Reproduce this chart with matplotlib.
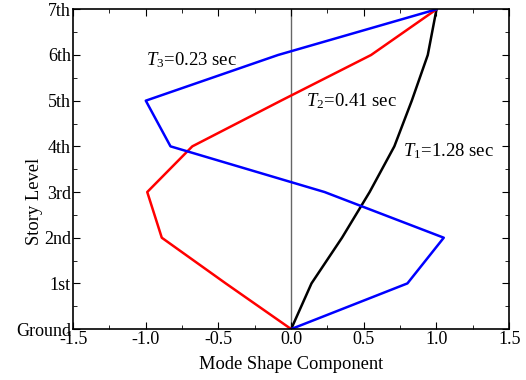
import numpy as np
import matplotlib
matplotlib.use("Agg")
import matplotlib.pyplot as plt

plt.rcParams["font.family"] = "Liberation Serif"
plt.rcParams["mathtext.fontset"] = "custom"
plt.rcParams["mathtext.it"] = "Liberation Serif:italic"
plt.rcParams["mathtext.rm"] = "Liberation Serif"

# story levels (ground to 7th)
levels = [0, 1, 2, 3, 4, 5, 6, 7]
level_labels = ["Ground", "1st", "2nd", "3rd", "4th", "5th", "6th", "7th"]

# mode shapes
mode1 = [0.0, 0.14, 0.35, 0.54, 0.71, 0.83, 0.94, 1.0]
mode2 = [0.0, -0.45, -0.89, -0.99, -0.68, -0.07, 0.55, 1.0]
mode3 = [0.0, 0.80, 1.05, 0.23, -0.83, -1.0, -0.09, 1.0]

fig = plt.figure(figsize=(5.26, 3.8), dpi=100)
ax = fig.add_axes([0.139, 0.134, 0.829, 0.8415])

ax.axvline(0, color="#666666", lw=1.0, zorder=1)
ax.plot(mode1, levels, color="black", lw=1.8)
ax.plot(mode2, levels, color="red", lw=1.8)
ax.plot(mode3, levels, color="blue", lw=1.8)

ax.text(-1.0, 5.88, "$T_3$=0.23 sec", fontsize=13.5, va="center")
ax.text(0.1, 4.98, "$T_2$=0.41 sec", fontsize=13.5, va="center")
ax.text(0.77, 3.9, "$T_1$=1.28 sec", fontsize=13.5, va="center")

ax.set_xlim(-1.5, 1.5)
ax.set_ylim(0, 7)
ax.set_xticks(np.arange(-1.5, 1.51, 0.5))
ax.set_xticklabels(["-1.5", "-1.0", "-0.5", "0.0", "0.5", "1.0", "1.5"])
ax.set_xticks(np.arange(-1.5, 1.51, 0.25), minor=True)
ax.set_yticks(levels)
ax.set_yticklabels(level_labels)
ax.set_yticks(np.arange(0, 7.01, 0.5), minor=True)
ax.tick_params(which="both", direction="in", top=True, right=True, labelsize=13, pad=1.5)
ax.tick_params(which="major", length=5)
ax.tick_params(which="minor", length=3)
for s in ax.spines.values():
    s.set_linewidth(1.2)

ax.set_xlabel("Mode Shape Component", fontsize=13.3)
ax.xaxis.set_label_coords(0.5, -0.085)
ax.set_ylabel("Story Level", fontsize=13.3)
ax.yaxis.set_label_coords(-0.07, 0.40)

fig.savefig("out.png", dpi=100)
